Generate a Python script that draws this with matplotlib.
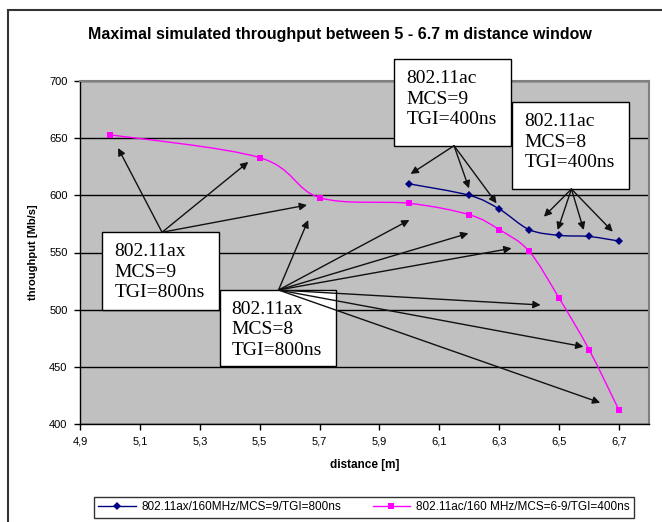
import numpy as np
import matplotlib
matplotlib.use("Agg")
import matplotlib.pyplot as plt
from matplotlib.path import Path
from matplotlib.patches import PathPatch, Rectangle
from matplotlib.lines import Line2D

plt.rcParams['font.family'] = ['Liberation Sans', 'DejaVu Sans']

# data
ac_x = [5.0, 5.5, 5.7, 6.0, 6.2, 6.3, 6.4, 6.5, 6.6, 6.7]
ac_y = [653, 633, 598, 593, 583, 570, 551, 510, 465, 412]
ax_x = [6.0, 6.2, 6.3, 6.4, 6.5, 6.6, 6.7]
ax_y = [610, 600, 588, 570, 565, 564, 560]
series_labels = ['802.11ax/160MHz/MCS=9/TGI=800ns',
                 '802.11ac/160 MHz/MCS=6-9/TGI=400ns']
x_ticks = [4.9, 5.1, 5.3, 5.5, 5.7, 5.9, 6.1, 6.3, 6.5, 6.7]
y_ticks = [400, 450, 500, 550, 600, 650, 700]
title = 'Maximal simulated throughput between 5 - 6.7 m distance window'

# callout boxes: text, (x0, x1, y_bottom, y_top) in data units
boxes = [
    ('802.11ax\nMCS=9\nTGI=800ns', (4.975, 5.365, 500.1, 567.7)),
    ('802.11ax\nMCS=8\nTGI=800ns', (5.366, 5.756, 450.7, 517.2)),
    ('802.11ac\nMCS=9\nTGI=400ns', (5.950, 6.340, 643.4, 719.0)),
    ('802.11ac\nMCS=8\nTGI=400ns', (6.344, 6.733, 605.5, 681.4)),
]
# arrows: origin -> list of targets, data units
arrows = [
    ((5.174, 567.7), [(5.027, 641.4), (5.462, 629.2), (5.658, 591.5)]),
    ((5.563, 517.2), [(5.662, 578.4), (6.000, 578.4), (6.197, 566.8),
                      (6.341, 553.7), (6.438, 504.1), (6.581, 467.6),
                      (6.637, 418.6)]),
    ((6.149, 643.4), [(6.004, 618.7), (6.199, 606.1), (6.291, 593.0)]),
    ((6.541, 605.5), [(6.449, 581.3), (6.495, 569.7), (6.582, 569.7),
                      (6.679, 568.2)]),
]

W, H = 662, 522
fig = plt.figure(figsize=(W / 100, H / 100), dpi=100)
ax = fig.add_axes([80 / W, 1 - 424 / H, 569 / W, 343 / H])
ax.set_facecolor('#c0c0c0')


def smooth_path(xs, ys):
    # Excel style smoothed line (Catmull-Rom as cubic Bezier)
    p = np.column_stack([xs, ys]).astype(float)
    ext = np.vstack([p[0], p, p[-1]])
    verts = [p[0]]
    codes = [Path.MOVETO]
    for i in range(len(p) - 1):
        p0, p1, p2, p3 = ext[i], ext[i + 1], ext[i + 2], ext[i + 3]
        verts += [p1 + (p2 - p0) / 6, p2 - (p3 - p1) / 6, p2]
        codes += [Path.CURVE4] * 3
    return Path(verts, codes)


navy = '#000080'
pink = '#ff00ff'
ax.add_patch(PathPatch(smooth_path(ax_x, ax_y), fill=False, ec=navy, lw=1, zorder=3))
ax.add_patch(PathPatch(smooth_path(ac_x, ac_y), fill=False, ec=pink, lw=1, zorder=3))
ax.plot(ax_x, ax_y, ls='none', marker='D', ms=4.5, color=navy, mew=0, zorder=3)
ax.plot(ac_x, ac_y, ls='none', marker='s', ms=5, color=pink, mew=0, zorder=3)

ax.set_xlim(4.9, 6.8)
ax.set_ylim(400, 700)
ax.set_xticks(x_ticks)
ax.set_xticklabels([f'{v:.1f}'.replace('.', ',') for v in x_ticks])
ax.set_yticks(y_ticks)
ax.tick_params(direction='out', length=4, width=1, labelsize=8, pad=5, colors='black')
ax.set_axisbelow(True)
ax.yaxis.grid(True, color='black', lw=1)
for s in ['top', 'right']:
    ax.spines[s].set_color('#808080')
    ax.spines[s].set_linewidth(1.5)
for s in ['left', 'bottom']:
    ax.spines[s].set_color('black')
    ax.spines[s].set_linewidth(1)

ax.set_ylabel('throughput [Mb/s]', fontsize=8, weight='bold')
ax.yaxis.set_label_coords((38 - 80) / 569, 0.5)
ax.set_xlabel('distance [m]', fontsize=8.5, weight='bold')
ax.xaxis.set_label_coords(0.5, -(459 - 424) / 343)

fig.text(340 / W, 1 - 35 / H, title, ha='center', va='center',
         fontsize=11.5, weight='bold')

for txt, (x0, x1, y0, y1) in boxes:
    ax.add_patch(Rectangle((x0, y0), x1 - x0, y1 - y0, fc='white', ec='black',
                           lw=1, zorder=4, clip_on=False))
    ax.annotate(txt, xy=(x0, y1), xytext=(8.6, -8), textcoords='offset points',
                ha='left', va='top', fontsize=14, family='Liberation Serif',
                linespacing=1.25, zorder=5, annotation_clip=False)

for start, targets in arrows:
    for t in targets:
        ax.annotate('', xy=t, xytext=start, annotation_clip=False, zorder=6,
                    arrowprops=dict(arrowstyle='-|>', color='#111111', lw=1,
                                    mutation_scale=11, shrinkA=0, shrinkB=0))

handles = [Line2D([], [], color=navy, lw=1, marker='D', ms=4.5, mew=0),
           Line2D([], [], color=pink, lw=1, marker='s', ms=5, mew=0)]
leg = fig.legend(handles, series_labels, loc='center', ncol=2, mode='expand',
                 bbox_to_anchor=(94 / W, 1 - 518 / H, 540 / W, 21 / H),
                 fontsize=8.5, frameon=True, fancybox=False, handlelength=3.2,
                 handletextpad=0.5, borderpad=0.35, borderaxespad=0)
leg.get_frame().set_edgecolor('black')
leg.get_frame().set_linewidth(1)

# outer chart border (cut off at the right and bottom)
fig.patches.append(Rectangle((8 / W, -0.1), 1.2, 1 - 10 / H + 0.1, fill=False,
                             ec='#333333', lw=1.5, transform=fig.transFigure))

fig.savefig('out.png', dpi=100)
